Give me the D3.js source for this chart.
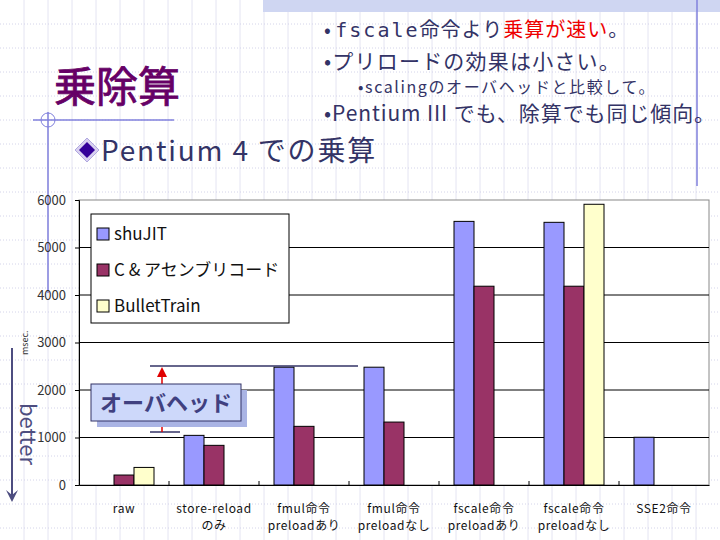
<!DOCTYPE html>
<html>
<head>
<meta charset="utf-8">
<script src="https://cdn.jsdelivr.net/npm/d3@7/dist/d3.min.js"></script>
<style>
  body { margin: 0; background: #fff; }
  text { font-family: "Noto Sans CJK JP", "DejaVu Sans", sans-serif; }
</style>
</head>
<body>
<div id="chart"></div>
<script>
// data
let categories = ['raw', 'store-reload\nのみ', 'fmul命令\npreloadあり', 'fmul命令\npreloadなし',
                  'fscale命令\npreloadあり', 'fscale命令\npreloadなし', 'SSE2命令']
let seriesNames = ['shuJIT', 'C & アセンブリコード', 'BulletTrain']
let shuJIT = [null, 1045, 2480, 2480, 5550, 5530, 1005]
let asmC = [210, 835, 1235, 1325, 4185, 4185, null]
let bulletTrain = [370, null, null, null, null, 5910, null]
let yTicks = [0, 1000, 2000, 3000, 4000, 5000, 6000]

let colors = ['#9999FF', '#993366', '#FFFFCC']
let navy = '#333366'

let W = 720, H = 540
let plot = {left: 79, right: 709, top: 200, bottom: 485}

let svg = d3.select('#chart').append('svg').attr('width', W).attr('height', H)

// slide background grid
let bg = svg.append('g')
bg.selectAll('line.v').data(d3.range(24, W, 24)).enter().append('line')
  .attr('x1', d => d).attr('x2', d => d).attr('y1', 0).attr('y2', H)
  .attr('stroke', '#e4e4f2').attr('stroke-width', 1)
bg.selectAll('line.h').data(d3.range(24, H, 24)).enter().append('line')
  .attr('x1', 0).attr('x2', W).attr('y1', d => d).attr('y2', d => d)
  .attr('stroke', '#d4d4ea').attr('stroke-width', 1).attr('stroke-dasharray', '1,2')

svg.append('rect').attr('x', 263).attr('y', 0).attr('width', W - 263).attr('height', 12).attr('fill', '#cfd6f2')
svg.append('line').attr('x1', 697).attr('x2', 697).attr('y1', 0).attr('y2', 186).attr('stroke', '#8080dd').attr('stroke-width', 1.5)
svg.append('line').attr('x1', 48).attr('x2', 48).attr('y1', 112).attr('y2', 293).attr('stroke', '#8080dd').attr('stroke-width', 1.5)
svg.append('line').attr('x1', 33).attr('x2', 174).attr('y1', 120).attr('y2', 120).attr('stroke', '#8080dd').attr('stroke-width', 1.5)
svg.append('circle').attr('cx', 48).attr('cy', 120).attr('r', 7).attr('fill', 'none').attr('stroke', '#8080dd')

// titles
svg.append('text').attr('x', 54).attr('y', 102).attr('font-size', 42)
  .attr('fill', '#660066').attr('stroke', '#660066').attr('stroke-width', 0.8).text('乗除算')

let b1 = svg.append('text').attr('x', 324).attr('y', 37).attr('font-size', 20).attr('fill', navy)
b1.append('tspan').text('• ')
b1.append('tspan').attr('font-family', 'DejaVu Sans Mono').attr('letter-spacing', 2).text('fscale')
b1.append('tspan').attr('letter-spacing', 1).text('命令より')
b1.append('tspan').attr('letter-spacing', 1).attr('fill', '#ee0000').text('乗算が速い')
b1.append('tspan').text('。')
svg.append('text').attr('x', 324).attr('y', 69).attr('font-size', 21).attr('letter-spacing', 1.2)
  .attr('fill', navy).text('•プリロードの効果は小さい。')
svg.append('text').attr('x', 358).attr('y', 93).attr('font-size', 16).attr('letter-spacing', 1.6)
  .attr('fill', navy).text('•scalingのオーバヘッドと比較して。')
svg.append('text').attr('x', 324).attr('y', 121).attr('font-size', 21).attr('letter-spacing', 0.9)
  .attr('fill', navy).text('•Pentium III でも、除算でも同じ傾向。')

svg.append('path').attr('d', 'M87,138 L99,150 L87,162 L75,150Z').attr('fill', '#d8d0f0').attr('stroke', '#b0a8e0')
svg.append('path').attr('d', 'M87,142 L95,150 L87,158 L79,150Z').attr('fill', '#330099')
svg.append('text').attr('x', 101).attr('y', 161).attr('font-size', 28).attr('letter-spacing', 1.8)
  .attr('fill', navy).text('Pentium 4 での乗算')

// scales
let x0 = d3.scaleBand().domain(d3.range(categories.length)).range([plot.left, plot.right])
let x1 = d3.scaleBand().domain(d3.range(seriesNames.length)).range([15, x0.bandwidth() - 15])
let y = d3.scaleLinear().domain([0, 6000]).range([plot.bottom, plot.top])

// plot area
svg.append('rect').attr('x', plot.left).attr('y', plot.top)
  .attr('width', plot.right - plot.left).attr('height', plot.bottom - plot.top)
  .attr('fill', '#fff').attr('stroke', '#888')

let yAxis = d3.axisLeft(y).tickValues(yTicks).tickFormat(d3.format('d')).tickSize(4).tickPadding(9)
let yg = svg.append('g').attr('transform', `translate(${plot.left},0)`).call(yAxis)
yg.select('.domain').attr('stroke', '#000')
yg.selectAll('text').attr('font-size', 13).attr('fill', '#333').attr('font-family', 'Liberation Sans, sans-serif')

svg.append('g').selectAll('line').data(yTicks.slice(1, -1)).enter().append('line')
  .attr('x1', plot.left).attr('x2', plot.right).attr('y1', d => y(d)).attr('y2', d => y(d))
  .attr('stroke', '#000')

// bars
let series = [shuJIT, asmC, bulletTrain]
let rows = []
series.forEach((vals, s) => vals.forEach((v, i) => { if (v != null) rows.push({s, i, v}) }))
svg.append('g').selectAll('rect').data(rows).enter().append('rect')
  .attr('x', d => x0(d.i) + x1(d.s))
  .attr('width', x1.bandwidth())
  .attr('y', d => y(d.v))
  .attr('height', d => y(0) - y(d.v))
  .attr('fill', d => colors[d.s])
  .attr('stroke', '#000').attr('stroke-width', 1)

// x axis
let xAxis = d3.axisBottom(x0).tickSize(0).tickFormat('')
let xg = svg.append('g').attr('transform', `translate(0,${plot.bottom})`).call(xAxis)
xg.select('.domain').attr('stroke', '#000')
svg.append('g').selectAll('line').data(d3.range(1, categories.length)).enter().append('line')
  .attr('x1', d => x0(d)).attr('x2', d => x0(d)).attr('y1', plot.bottom - 4).attr('y2', plot.bottom)
  .attr('stroke', '#000')
let xl = svg.append('g').selectAll('text').data(categories).enter().append('text')
  .attr('text-anchor', 'middle').attr('font-size', 12).attr('letter-spacing', 0.6).attr('fill', '#111')
xl.each(function(d, i) {
  let t = d3.select(this)
  d.split('\n').forEach((line, k) => {
    t.append('tspan').attr('x', x0(i) + x0.bandwidth() / 2).attr('y', 513 + k * 17).text(line)
  })
})

// legend
let lg = svg.append('g')
lg.append('rect').attr('x', 91).attr('y', 214).attr('width', 198).attr('height', 109)
  .attr('fill', '#fff').attr('stroke', '#000')
seriesNames.forEach((n, i) => {
  let cy = 234 + i * 36
  lg.append('rect').attr('x', 97).attr('y', cy - 6).attr('width', 12).attr('height', 12)
    .attr('fill', colors[i]).attr('stroke', '#000')
  lg.append('text').attr('x', 114).attr('y', cy + 6).attr('font-size', 17).attr('fill', '#111').text(n)
})

// axis title and "better" arrow
svg.append('text').attr('transform', 'translate(28,355) rotate(-90)').attr('font-size', 9)
  .attr('fill', '#333').text('msec.')
svg.append('line').attr('x1', 12).attr('x2', 12).attr('y1', 348).attr('y2', 498)
  .attr('stroke', '#4d4d80').attr('stroke-width', 2)
svg.append('path').attr('d', 'M6,490 L12,502 L18,490 L12,495Z').attr('fill', '#4d4d80')
svg.append('text').attr('transform', 'translate(20,403) rotate(90)').attr('font-size', 22)
  .attr('fill', '#4d4d80').text('better')

// overhead annotation
svg.append('line').attr('x1', 150).attr('x2', 358).attr('y1', 366).attr('y2', 366).attr('stroke', navy).attr('stroke-width', 1.5)
svg.append('line').attr('x1', 150).attr('x2', 180).attr('y1', 432).attr('y2', 432).attr('stroke', navy).attr('stroke-width', 1.5)
svg.append('line').attr('x1', 162).attr('x2', 162).attr('y1', 432).attr('y2', 374).attr('stroke', '#e00000').attr('stroke-width', 1.5)
svg.append('path').attr('d', 'M157,377 L162,367 L167,377Z').attr('fill', '#e00000')
svg.append('rect').attr('x', 97).attr('y', 390).attr('width', 150).attr('height', 37).attr('fill', '#aab4e4')
svg.append('rect').attr('x', 91).attr('y', 384).attr('width', 150).attr('height', 37)
  .attr('fill', '#cdd8fa').attr('stroke', navy)
svg.append('text').attr('x', 166).attr('y', 411).attr('text-anchor', 'middle').attr('font-size', 22)
  .attr('font-weight', 'bold').attr('fill', '#404080').text('オーバヘッド')
</script>
</body>
</html>
